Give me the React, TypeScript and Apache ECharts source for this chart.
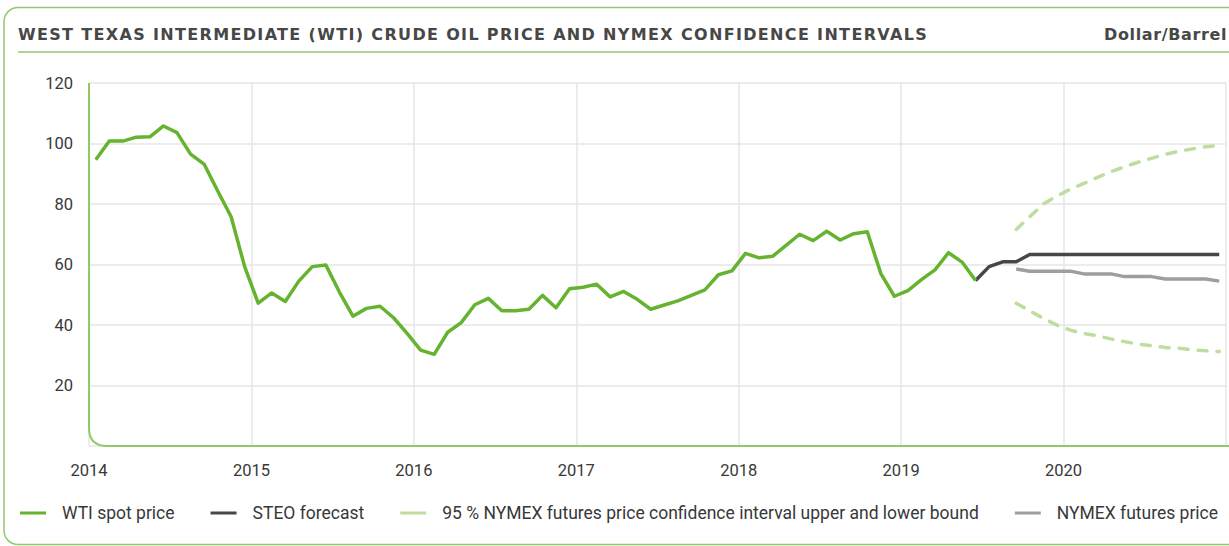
import React, { useEffect, useRef } from "react";
import * as echarts from "echarts";

// ---- data (monthly, Jan 2014 = month index 0) ----
const yearLabels = ["2014", "2015", "2016", "2017", "2018", "2019", "2020"];

const wtiSpot = [
  94.6, 100.8, 100.8, 102.1, 102.2, 105.8, 103.6, 96.5, 93.2, 84.4, 75.8, 59.3,
  47.2, 50.6, 47.8, 54.5, 59.3, 59.8, 50.9, 42.9, 45.5, 46.2, 42.4, 37.2,
  31.7, 30.3, 37.6, 40.8, 46.7, 48.8, 44.7, 44.7, 45.2, 49.8, 45.7, 52.0,
  52.5, 53.5, 49.3, 51.1, 48.5, 45.2, 46.6, 48.0, 49.8, 51.6, 56.6, 57.9,
  63.7, 62.2, 62.7, 66.3, 70.0, 67.9, 71.0, 68.1, 70.2, 70.8, 57.0, 49.5,
  51.4, 55.0, 58.2, 63.9, 60.8, 54.7,
];
const WTI_START = 0;

// STEO forecast from Jun 2019
const steoForecast = [
  54.7, 59.3, 60.9, 60.9, 63.3, 63.3, 63.3, 63.3, 63.3, 63.3, 63.3, 63.3, 63.3,
  63.3, 63.3, 63.3, 63.3, 63.3, 63.3,
];
const STEO_START = 65;

// NYMEX futures and confidence bounds from Sep 2019
const nymexFutures = [
  58.5, 57.8, 57.8, 57.8, 57.8, 56.9, 56.9, 56.9, 56.0, 56.0, 56.0, 55.2, 55.2,
  55.2, 55.2, 54.5,
];
const ciUpper = [
  71.6, 75.8, 80.0, 82.6, 84.9, 86.8, 88.8, 90.7, 92.3, 93.8, 95.1, 96.4, 97.4,
  98.2, 98.9, 99.4,
];
const ciLower = [
  47.2, 44.7, 42.2, 40.0, 38.3, 37.2, 36.4, 35.4, 34.5, 33.7, 33.2, 32.6, 32.3,
  31.8, 31.5, 31.2,
];
const NYMEX_START = 68;

const TITLE =
  "WEST TEXAS INTERMEDIATE (WTI) CRUDE OIL PRICE AND NYMEX CONFIDENCE INTERVALS";
const UNIT = "Dollar/Barrel";
const LEGEND_WTI = "WTI spot price";
const LEGEND_STEO = "STEO forecast";
const LEGEND_CI =
  "95 % NYMEX futures price confidence interval upper and lower bound";
const LEGEND_NYMEX = "NYMEX futures price";

const toPoints = (vals: number[], start: number) =>
  vals.map((v, i) => [start + i + 0.5, v]);

const C_WTI = "#66b32f";
const C_STEO = "#474747";
const C_CI = "#bedd9f";
const C_NYMEX = "#9e9e9e";
const C_FRAME = "#8fca68";
const FONT = "Roboto";
const TITLE_FONT = "'DejaVu Sans'";

let registered = false;

export default function App() {
  const ref = useRef<HTMLDivElement>(null);

  useEffect(() => {
    if (!ref.current) return;
    if (!registered) {
      echarts.graphic.registerShape(
        "axisFrame",
        echarts.graphic.extendPath(
          "M89 83 L89 428 Q89 446 107 446 L1229 446",
          {}
        )
      );
      registered = true;
    }
    const chart = echarts.init(ref.current, undefined, { renderer: "svg" });

    const lineSeries = (
      name: string,
      data: number[][],
      color: string,
      dashed = false,
      z = 2
    ) => ({
      name,
      type: "line",
      data,
      showSymbol: false,
      symbol: "none",
      z,
      itemStyle: { color },
      lineStyle: {
        color,
        width: 3.5,
        type: dashed ? [9, 10] : "solid",
        cap: dashed ? "round" : "butt",
        join: "round",
      },
      emphasis: { disabled: true },
    });

    const option: any = {
      animation: false,
      backgroundColor: "#ffffff",
      textStyle: { fontFamily: FONT },
      grid: { left: 89, right: 1, top: 83, bottom: 100, containLabel: false },
      xAxis: {
        type: "value",
        min: 0,
        max: 84,
        interval: 12,
        axisLine: { show: false },
        axisTick: { show: false },
        axisLabel: {
          margin: 16,
          color: "#383838",
          fontSize: 16.5,
          fontFamily: FONT,
          formatter: (v: number) => yearLabels[Math.round(v / 12)] ?? "",
        },
        splitLine: { show: true, lineStyle: { color: "#e6e6e6", width: 1.5 } },
      },
      yAxis: {
        type: "value",
        min: 0,
        max: 120,
        interval: 20,
        axisLine: { show: false },
        axisTick: { show: false },
        axisLabel: {
          margin: 16,
          color: "#383838",
          fontSize: 16.5,
          fontFamily: FONT,
          formatter: (v: number) => (v === 0 ? "" : String(v)),
        },
        splitLine: { show: true, lineStyle: { color: "#e6e6e6", width: 1.5 } },
      },
      legend: {
        left: 20,
        top: 504,
        width: 1209,
        padding: 0,
        icon: "rect",
        itemWidth: 26,
        itemHeight: 3,
        itemGap: 36,
        selectedMode: false,
        textStyle: {
          fontFamily: FONT,
          fontSize: 17.5,
          color: "#383838",
          padding: [0, 0, 0, 11],
        },
        data: [LEGEND_WTI, LEGEND_STEO, LEGEND_CI, LEGEND_NYMEX],
      },
      graphic: [
        {
          type: "rect",
          z: 0,
          silent: true,
          shape: { x: 4, y: 7.5, width: 1245, height: 537, r: 14 },
          style: { fill: "none", stroke: C_FRAME, lineWidth: 1.5 },
        },
        {
          type: "line",
          silent: true,
          shape: { x1: 18, y1: 52, x2: 1229, y2: 52 },
          style: { stroke: C_FRAME, lineWidth: 1.5 },
        },
        {
          type: "text",
          silent: true,
          x: 18,
          y: 34,
          style: {
            text: TITLE,
            fill: "#474747",
            font: `bold 16px ${TITLE_FONT}`,
            textAlign: "left",
            textVerticalAlign: "middle",
          },
        },
        {
          type: "text",
          silent: true,
          x: 1227,
          y: 34,
          style: {
            text: UNIT,
            fill: "#474747",
            font: `bold 16px ${TITLE_FONT}`,
            textAlign: "right",
            textVerticalAlign: "middle",
          },
        },
        {
          type: "axisFrame",
          silent: true,
          z: 10,
          x: 0,
          y: 0,
          style: { fill: "none", stroke: C_FRAME, lineWidth: 2 },
        },
      ],
      series: [
        lineSeries(LEGEND_WTI, toPoints(wtiSpot, WTI_START), C_WTI, false, 4),
        lineSeries(LEGEND_STEO, toPoints(steoForecast, STEO_START), C_STEO, false, 3),
        lineSeries(LEGEND_CI, toPoints(ciUpper, NYMEX_START), C_CI, true, 2),
        lineSeries(LEGEND_CI, toPoints(ciLower, NYMEX_START), C_CI, true, 2),
        lineSeries(LEGEND_NYMEX, toPoints(nymexFutures, NYMEX_START), C_NYMEX, false, 3),
      ],
    };
    chart.setOption(option);

    const track = () => {
      const root = ref.current;
      if (!root) return;
      const targets: Record<string, number> = { [TITLE]: 910, [UNIT]: 123 };
      root.querySelectorAll("text").forEach((t: any) => {
        const txt = t.textContent || "";
        if (targets[txt] && !t.getAttribute("data-tracked")) {
          const len = t.getComputedTextLength ? t.getComputedTextLength() : 0;
          if (len > 0) {
            const sp = (targets[txt] - len) / txt.length;
            t.setAttribute("letter-spacing", sp.toFixed(2));
            t.setAttribute("data-tracked", "1");
          }
        }
      });
    };
    track();
    chart.on("finished", track);
    const timer = setTimeout(track, 50);

    return () => {
      clearTimeout(timer);
      chart.dispose();
    };
  }, []);

  return (
    <div
      ref={ref}
      style={{ position: "fixed", left: 0, top: 0, width: 1229, height: 546 }}
    />
  );
}
